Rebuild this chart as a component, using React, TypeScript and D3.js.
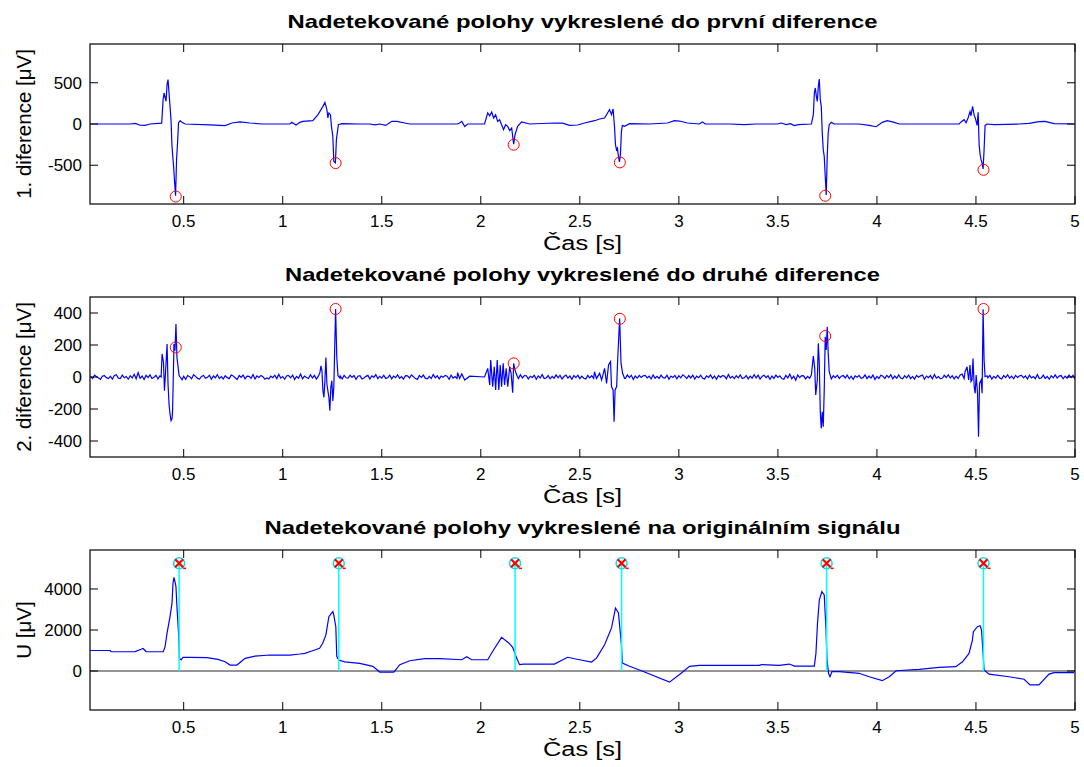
import React from 'react';
import * as d3 from 'd3';

// ---------- data ----------
const xTicks = [0.5, 1, 1.5, 2, 2.5, 3, 3.5, 4, 4.5, 5];
const y1Ticks = [-500, 0, 500];
const y2Ticks = [-400, -200, 0, 200, 400];
const y3Ticks = [0, 2000, 4000];

const titles = [
  'Nadetekované polohy vykreslené do první diference',
  'Nadetekované polohy vykreslené do druhé diference',
  'Nadetekované polohy vykreslené na originálním signálu',
];
const titleWidths = [590, 595, 636];
const yLabels = ['1. diference [\u03bcV]', '2. diference [\u03bcV]', 'U [\u03bcV]'];
const xLabel = 'Čas [s]';

// first difference [t (s), value (µV)]
const diff1: [number, number][] = [
  [0.028, 0], [0.229, 0], [0.255, 8], [0.28, -15], [0.305, -17], [0.33, 0], [0.389, 10],
  [0.396, 295], [0.401, 376], [0.411, 275], [0.416, 477], [0.421, 538], [0.426, 376], [0.436, 52],
  [0.441, -272], [0.449, -515], [0.454, -700], [0.459, -870], [0.464, -433], [0.469, -231],
  [0.474, 12], [0.482, 40], [0.492, 20], [0.507, 0], [0.633, -10], [0.709, -20], [0.744, 12],
  [0.784, 25], [0.835, 12], [0.895, 0], [1.036, 0], [1.046, 20], [1.067, -12], [1.087, 20],
  [1.102, 32], [1.152, 40], [1.178, 113], [1.203, 214], [1.213, 262], [1.223, 174], [1.228, 73],
  [1.233, 134], [1.241, 113], [1.246, -29], [1.253, -150], [1.258, -454], [1.266, -470],
  [1.271, -190], [1.281, -8], [1.299, 4], [1.389, 0], [1.44, 0], [1.465, -10], [1.49, 0],
  [1.52, -17], [1.551, 32], [1.576, 32], [1.616, 12], [1.641, 0], [1.883, 0], [1.893, 12],
  [1.904, 32], [1.919, -30], [1.934, 0], [2.019, 0], [2.035, 134], [2.045, 100], [2.055, 146],
  [2.065, 73], [2.075, 113], [2.085, 32], [2.095, 52], [2.105, -8], [2.115, -69], [2.125, -8],
  [2.136, -29], [2.146, -81], [2.156, -49], [2.161, -150], [2.166, -245], [2.173, -130],
  [2.186, -29], [2.206, 25], [2.247, 0], [2.372, 12], [2.413, 10], [2.448, -17], [2.489, -12],
  [2.524, 12], [2.574, 40], [2.6, 61], [2.625, 73], [2.64, 134], [2.65, 174], [2.66, 113],
  [2.668, 182], [2.675, -29], [2.68, -251], [2.685, -312], [2.69, -292], [2.695, -393],
  [2.7, -460], [2.705, -373], [2.71, -90], [2.715, -17], [2.726, -29], [2.751, 4], [2.852, 0],
  [2.942, 12], [2.978, 40], [3.003, 36], [3.043, 12], [3.104, 0], [3.119, 25], [3.134, 0],
  [3.255, 0], [3.33, -8], [3.391, 0], [3.497, 0], [3.517, 12], [3.542, -8], [3.563, 4],
  [3.583, -20], [3.603, -8], [3.669, 0], [3.679, 113], [3.684, 376], [3.689, 437], [3.694, 335],
  [3.699, 274], [3.704, 456], [3.709, 546], [3.714, 295], [3.719, 214], [3.724, -109],
  [3.729, -312], [3.734, -393], [3.739, -636], [3.744, -860], [3.749, -393], [3.754, -109],
  [3.759, -8], [3.769, 20], [3.785, 0], [3.91, 0], [3.961, -17], [3.996, -33], [4.027, 20],
  [4.052, 40], [4.087, 20], [4.113, 0], [4.415, 0], [4.425, 25], [4.44, 52], [4.45, 15],
  [4.46, 73], [4.47, 150], [4.475, 100], [4.483, 214], [4.491, 104], [4.496, 77], [4.506, -17],
  [4.511, 141], [4.516, -251], [4.521, -373], [4.526, -433], [4.531, -474], [4.536, -545],
  [4.541, -312], [4.546, -17], [4.556, 0], [4.592, -8], [4.718, 0], [4.768, 8], [4.818, 28],
  [4.849, 32], [4.894, 4], [4.995, 0],
];

// second difference: QRS segments [t, value]
const diff2Beat1: [number, number][] = [
  [0.386, 0], [0.391, 144], [0.398, 91], [0.403, -86], [0.408, 20], [0.416, 206], [0.421, -44],
  [0.426, -169], [0.431, -231], [0.436, -273], [0.441, -262], [0.444, -210], [0.451, 206],
  [0.456, 164], [0.461, 331], [0.466, 122], [0.472, 60], [0.477, 8], [0.482, 0], [0.492, -17],
];
const diff2Beat2: [number, number][] = [
  [1.188, 29], [1.193, 70], [1.198, 40], [1.203, -86], [1.208, -127], [1.213, -23], [1.218, 122],
  [1.223, -44], [1.228, -86], [1.233, -127], [1.238, -210], [1.243, -65], [1.248, -23],
  [1.253, -150], [1.258, -60], [1.267, 425], [1.273, 122], [1.279, 8], [1.289, -6],
];
const diff2Beat3: [number, number][] = [
  [1.883, 27], [1.893, -9], [1.904, 19], [1.919, -19], [1.944, 5], [2.019, 0], [2.035, 54],
  [2.045, -50], [2.05, 106], [2.06, -60], [2.068, 64], [2.075, -81], [2.083, 106], [2.091, -81],
  [2.098, 75], [2.105, -60], [2.113, 85], [2.12, -50], [2.128, 54], [2.136, -60], [2.146, 64],
  [2.153, 23], [2.161, -98], [2.166, 85], [2.171, 54], [2.178, 23], [2.186, 0],
];
const diff2Beat4: [number, number][] = [
  [2.574, 33], [2.584, -9], [2.6, 23], [2.61, -19], [2.625, 54], [2.635, -40], [2.645, 75],
  [2.655, 96], [2.66, -60], [2.668, -81], [2.673, -280], [2.678, -81], [2.686, -60], [2.691, 106],
  [2.701, 366], [2.708, 85], [2.716, 23], [2.726, -9],
];
const diff2Beat5: [number, number][] = [
  [3.669, 12], [3.679, 131], [3.686, 54], [3.691, -112], [3.699, -19], [3.704, 210], [3.709, 85],
  [3.714, -217], [3.719, -321], [3.724, -217], [3.729, -311], [3.734, -81], [3.739, 252],
  [3.744, 169], [3.749, 314], [3.754, 148], [3.759, 33], [3.769, -9],
];
const diff2Beat6: [number, number][] = [
  [4.445, 33], [4.455, 64], [4.463, -19], [4.47, 75], [4.475, -29], [4.48, -19], [4.485, 116],
  [4.491, -60], [4.496, -102], [4.501, 12], [4.508, -102], [4.513, -373], [4.518, -40],
  [4.526, -19], [4.531, -102], [4.536, 423], [4.541, 106], [4.546, 2], [4.556, 8],
];

// second difference: baseline noise, one value every 10 ms from 0.03 s
const noiseStart = 0.03;
const noiseStep = 0.01;
const diff2Noise = [
  3, -9, 12, 2, -6, -15, 6, 9, -4, -10,
  5, -13, 9, 14, -7, -10, 12, -5, 3, -14,
  8, -6, 17, -11, 27, -8, 6, -16, 10, -3,
  13, -9, -2, 11, -12, 7, -8, 16, -10, 4,
  -6, 10, -14, 8, -3, 12, -9, 5, -15, 9,
  2, -11, 14, 4, -9, -13, 4, 10, -8, -2,
  11, -14, 6, -5, 15, -9, 3, -12, 8, -4,
  -10, 13, 7, -5, -16, 9, -2, 12, -11, 6,
  4, -8, 15, -13, 7, -3, 10, 2, -14, -6,
  -12, 5, -4, 11, -10, 16, -7, 3, -14, 8,
  9, -5, 12, -15, 4, -8, 19, -11, 6, -3,
  -9, 14, -6, 10, -13, 5, -2, 22, -12, 7,
  3, -10, 8, -4, 13, -9, 6, -12, 10, -5,
  -7, 11, -3, 9, -14, 5, 8, -12, -6, 4,
  10, -13, 7, -2, 15, -10, 4, -7, 11, -9,
  -5, 12, -11, 6, -4, 14, -8, 3, -13, 9,
  7, -6, 13, 2, -10, -15, 9, -3, 12, -7,
  -11, 4, -9, 16, -5, 8, -12, 6, -2, 10,
  5, -14, 11, -7, 3, -9, 14, -4, 8, -12,
  -8, 20, -13, 6, -10, 24, -15, 9, -6, 13,
  6, -9, 4, -12, 10, -5, 13, -8, 3, -11,
  -4, 12, -9, 7, -13, 5, -10, 14, -6, 9,
  8, -12, 5, -3, 11, -14, 7, -6, 15, -9,
  -6, 9, -11, 4, -8, 13, -5, 10, -12, 3,
  12, -7, 6, -14, 9, -4, 11, -10, 5, -8,
  -13, 10, -5, 8, -9, 15, -6, 4, -11, 7,
  3, -8, 14, -10, 6, -2, 9, -13, 7, -5,
  -9, 13, -4, 11, -15, 6, -7, 10, -3, 8,
  10, -6, 5, -12, 13, -8, 4, -9, 12, -4,
  -7, 11, -14, 6, -3, 10, -11, 8, -5, 14,
  4, -10, 9, -6, 12, -13, 5, -4, 11, -8,
  -12, 7, -3, 13, -9, 6, -14, 10, -2, 9,
  6, -11, 15, -7, 4, -10, 8, -5, 13, -9,
  -5, 9, -12, 5, -8, 14, -6, 11, -13, 4,
  11, -4, 8, -15, 6, -9, 12, -3, 7, -10,
  -14, 10, -6, 18, -11, 5, -20, 13, -4, 9,
  7, -12, 4, -8, 14, -5, 10, -13, 6, -3,
  -10, 15, -7, 3, -12, 8, -4, 11, -9, 5,
  9, -6, 12, -11, 5, -14, 7, -2, 10, -8,
  -4, 13, -10, 6, -7, 12, -15, 4, -9, 11,
  5, -9, 10, -3, 14, -12, 6, -8, 13, -6,
  -11, 8, -5, 12, -10, 4, -13, 9, -2, 7,
  12, -14, 6, -4, 9, -11, 15, -7, 3, -10,
  -8, 11, -3, 14, -6, 8, -12, 5, -9, 13,
  18, -10, 22, -14, 7, -16, 12, -8, 20, -12,
  6, -9, 13, -5, 10, -13, 4, -7, 11, -6,
  -12, 9, -4, 14, -8, 5, -11, 10, -3, 8,
  10, -5, 7, -13, 12, -6, 3, -10, 15, -9,
  -6, 12, -9, 4, -14, 8, -5, 13, -7, 6,
  9, -11, 5, -8, 12, -4, 10, -12, 7, -3,
];

// original signal [t, µV]
const signal: [number, number][] = [
  [0.028, 1000], [0.129, 1000], [0.134, 940], [0.255, 950], [0.285, 1060], [0.295, 1100],
  [0.31, 950], [0.397, 940], [0.406, 1190], [0.416, 1850], [0.431, 2650], [0.441, 3300],
  [0.446, 4280], [0.451, 4570], [0.456, 4360], [0.461, 4110], [0.466, 3140], [0.474, 1850],
  [0.479, 620], [0.487, 540], [0.497, 670], [0.532, 670], [0.618, 650], [0.673, 570],
  [0.709, 450], [0.734, 290], [0.769, 290], [0.81, 620], [0.86, 730], [0.935, 780],
  [1.036, 780], [1.087, 830], [1.112, 860], [1.147, 975], [1.186, 1110], [1.202, 1350],
  [1.218, 1760], [1.233, 2650], [1.253, 2900], [1.258, 2730], [1.268, 2160], [1.273, 700],
  [1.283, 540], [1.313, 450], [1.389, 375], [1.455, 230], [1.49, -50], [1.561, -50],
  [1.591, 310], [1.641, 500], [1.717, 600], [1.793, 600], [1.904, 550], [1.929, 700],
  [1.954, 550], [2.035, 550], [2.065, 1040], [2.105, 1640], [2.141, 1370], [2.161, 1160],
  [2.181, 630], [2.196, 310], [2.216, 340], [2.372, 340], [2.438, 670], [2.499, 550],
  [2.559, 440], [2.584, 630], [2.625, 1280], [2.66, 2100], [2.68, 3070], [2.695, 2830],
  [2.71, 1280], [2.715, 390], [2.751, 230], [2.811, 15], [2.953, -540], [3.013, -100],
  [3.054, 230], [3.104, 280], [3.406, 280], [3.417, 310], [3.507, 280], [3.558, 340],
  [3.583, 240], [3.684, 240], [3.692, 860], [3.7, 2330], [3.709, 3460], [3.722, 3870],
  [3.734, 3710], [3.743, 2000], [3.748, 540], [3.756, -120], [3.763, -280], [3.773, -30],
  [3.81, -30], [3.91, -110], [3.961, -280], [4.027, -470], [4.062, -280], [4.097, 15],
  [4.213, 80], [4.314, 180], [4.398, 210], [4.432, 450], [4.465, 860], [4.482, 1510],
  [4.487, 1920], [4.507, 2160], [4.521, 2210], [4.528, 2000], [4.536, 860], [4.541, 50],
  [4.566, -150], [4.667, -280], [4.743, -400], [4.773, -680], [4.818, -680], [4.869, -150],
  [4.894, -80], [4.995, -80],
];

// detections
const detectedDiff = [0.46, 1.267, 2.166, 2.702, 3.739, 4.538];
const diff1AtDetected = [-880, -474, -251, -466, -870, -555];
const diff2AtDetected = [185, 425, 85, 364, 256, 425];
const detectedSignal = [0.477, 1.283, 2.173, 2.711, 3.746, 4.538];
const markerLevel = 5250;

// ---------- layout ----------
const W = 1084;
const H = 767;
const LEFT = 90;
const RIGHT = 1075;
const PH = 160;
const TOPS = [44, 297, 550];
const FONT = 'Liberation Sans, Arial, sans-serif';

const xScale = d3.scaleLinear().domain([0.027, 5]).range([LEFT, RIGHT]);

type Pt = [number, number];

const windows = [diff2Beat1, diff2Beat2, diff2Beat3, diff2Beat4, diff2Beat5, diff2Beat6].map(
  (b) => [b[0][0], b[b.length - 1][0]]
);
const noisePts: Pt[] = diff2Noise
  .map((v, i) => [noiseStart + i * noiseStep, v] as Pt)
  .filter(([t]) => t <= 5 && !windows.some(([a, b]) => t >= a && t <= b));
const diff2: Pt[] = [
  ...noisePts,
  ...diff2Beat1, ...diff2Beat2, ...diff2Beat3, ...diff2Beat4, ...diff2Beat5, ...diff2Beat6,
].sort((a, b) => a[0] - b[0]);

function Panel({ idx, top, yDomain, yTicks, children }: any) {
  const y = d3.scaleLinear().domain(yDomain).range([top + PH, top]);
  const tl = 8;
  return (
    <g>
      <defs>
        <clipPath id={`clip${top}`}>
          <rect x={LEFT} y={top} width={RIGHT - LEFT} height={PH} />
        </clipPath>
      </defs>
      <rect x={LEFT} y={top} width={RIGHT - LEFT} height={PH} fill="#fff" />
      <g clipPath={`url(#clip${top})`}>{children(xScale, y)}</g>
      {xTicks.map((t) => (
        <g key={'x' + t}>
          <line x1={xScale(t)} x2={xScale(t)} y1={top + PH} y2={top + PH - tl} stroke="#000" strokeWidth={1} />
          <line x1={xScale(t)} x2={xScale(t)} y1={top} y2={top + tl} stroke="#000" strokeWidth={1} />
          <text x={xScale(t)} y={top + PH + 23} textAnchor="middle" fontSize={17} fontFamily={FONT} fill="#000">
            {String(t)}
          </text>
        </g>
      ))}
      {yTicks.map((v: number) => (
        <g key={'y' + v}>
          <line x1={LEFT} x2={LEFT + tl} y1={y(v)} y2={y(v)} stroke="#000" strokeWidth={1} />
          <line x1={RIGHT} x2={RIGHT - tl} y1={y(v)} y2={y(v)} stroke="#000" strokeWidth={1} />
          <text x={LEFT - 8} y={y(v) + 6} textAnchor="end" fontSize={17} fontFamily={FONT} fill="#000">
            {String(v)}
          </text>
        </g>
      ))}
      <rect x={LEFT} y={top} width={RIGHT - LEFT} height={PH} fill="none" stroke="#000" strokeWidth={1.2} />
      <text
        x={(LEFT + RIGHT) / 2}
        y={top - 16}
        textAnchor="middle"
        fontSize={18.5}
        fontWeight="bold"
        fontFamily={FONT}
        fill="#000"
        textLength={titleWidths[idx]}
        lengthAdjust="spacingAndGlyphs"
      >
        {titles[idx]}
      </text>
      <text
        x={(LEFT + RIGHT) / 2}
        y={top + PH + 46}
        textAnchor="middle"
        fontSize={20}
        fontFamily={FONT}
        fill="#000"
        textLength={79}
        lengthAdjust="spacingAndGlyphs"
      >
        {xLabel}
      </text>
      <text transform={`translate(31,${top + PH / 2}) rotate(-90)`} textAnchor="middle" fontSize={20.5} fontFamily={FONT} fill="#000">
        {yLabels[idx]}
      </text>
    </g>
  );
}

export default function App() {
  const mk = (x: any, y: any) => d3.line<Pt>().x((d) => x(d[0])).y((d) => y(d[1]));
  return (
    <svg width={W} height={H} style={{ position: 'absolute', left: 0, top: 0, background: '#fff' }}>
      <rect width={W} height={H} fill="#fff" />
      <Panel idx={0} top={TOPS[0]} yDomain={[-970, 970]} yTicks={y1Ticks}>
        {(x: any, y: any) => (
          <g>
            <path d={mk(x, y)(diff1) || ''} fill="none" stroke="#0000ff" strokeWidth={1.2} />
            {detectedDiff.map((t, i) => (
              <circle key={i} cx={x(t)} cy={y(diff1AtDetected[i])} r={5.5} fill="none" stroke="#ff0000" strokeWidth={1} />
            ))}
          </g>
        )}
      </Panel>
      <Panel idx={1} top={TOPS[1]} yDomain={[-500, 500]} yTicks={y2Ticks}>
        {(x: any, y: any) => (
          <g>
            <path d={mk(x, y)(diff2) || ''} fill="none" stroke="#0000ff" strokeWidth={1.2} />
            {detectedDiff.map((t, i) => (
              <circle key={i} cx={x(t)} cy={y(diff2AtDetected[i])} r={5.5} fill="none" stroke="#ff0000" strokeWidth={1} />
            ))}
          </g>
        )}
      </Panel>
      <Panel idx={2} top={TOPS[2]} yDomain={[-1900, 5900]} yTicks={y3Ticks}>
        {(x: any, y: any) => (
          <g>
            <line x1={LEFT} x2={RIGHT} y1={y(0)} y2={y(0)} stroke="#707070" strokeWidth={1.5} />
            <path d={mk(x, y)(signal) || ''} fill="none" stroke="#0000ff" strokeWidth={1.2} />
            {detectedSignal.map((t, i) => {
              const cx = x(t);
              const cy = y(markerLevel);
              return (
                <g key={i}>
                  <line x1={cx} x2={cx} y1={y(0)} y2={cy} stroke="#00ffff" strokeWidth={1.5} />
                  <circle cx={cx} cy={cy} r={5.5} fill="none" stroke="#00e5e5" strokeWidth={1.5} />
                  <line x1={cx - 4} x2={cx + 4} y1={cy - 4} y2={cy + 4} stroke="#ff0000" strokeWidth={2.2} />
                  <line x1={cx - 4} x2={cx + 4} y1={cy + 4} y2={cy - 4} stroke="#ff0000" strokeWidth={2.2} />
                  <line x1={cx + 4} x2={cx + 7} y1={cy + 5} y2={cy + 5} stroke="#ff0000" strokeWidth={1.5} />
                </g>
              );
            })}
          </g>
        )}
      </Panel>
    </svg>
  );
}
